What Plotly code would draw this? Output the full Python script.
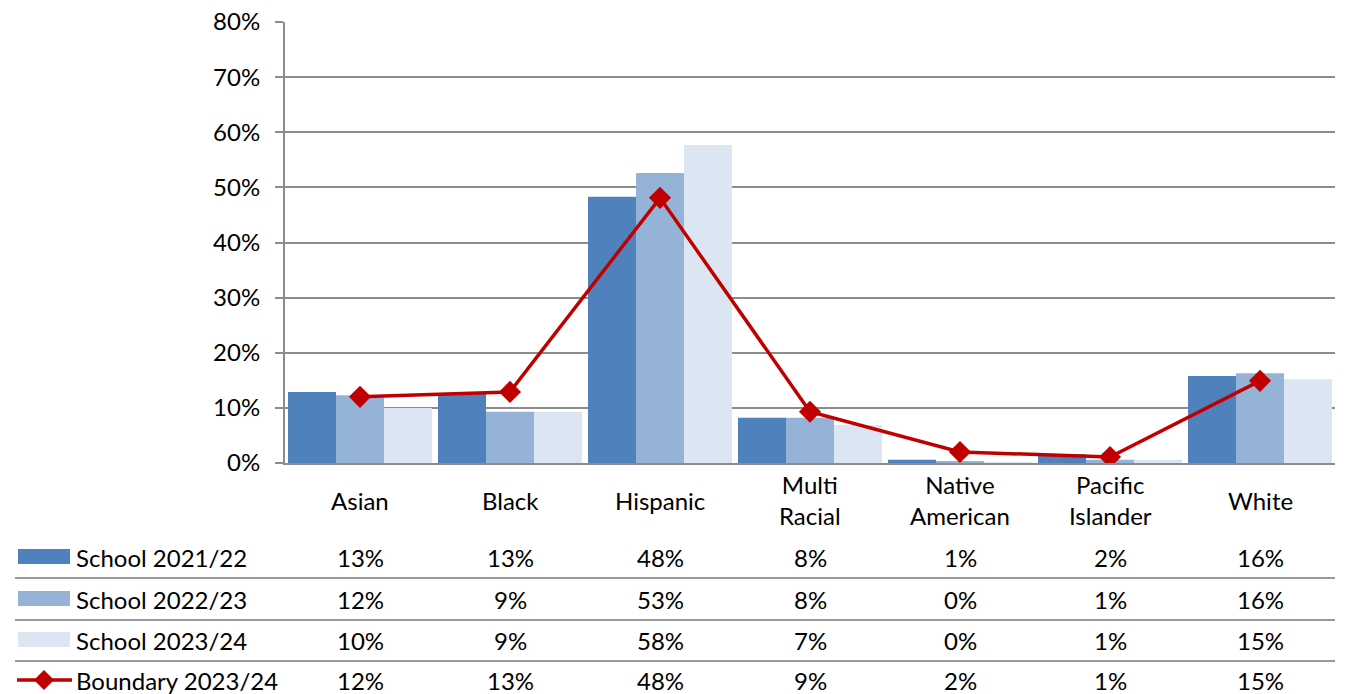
import plotly.graph_objects as go

categories = ["Asian", "Black", "Hispanic", "Multi Racial", "Native American", "Pacific Islander", "White"]
category_labels = ["Asian", "Black", "Hispanic", "Multi<br>Racial", "Native<br>American", "Pacific<br>Islander", "White"]
school_2122 = [0.129, 0.127, 0.483, 0.082, 0.006, 0.016, 0.158]
school_2223 = [0.123, 0.093, 0.526, 0.082, 0.002, 0.006, 0.163]
school_2324 = [0.100, 0.093, 0.577, 0.069, 0.001, 0.006, 0.152]
boundary_2324 = [0.120, 0.129, 0.481, 0.093, 0.020, 0.011, 0.149]
series_names = ["School 2021/22", "School 2022/23", "School 2023/24", "Boundary 2023/24"]
y_ticks = [0, 0.1, 0.2, 0.3, 0.4, 0.5, 0.6, 0.7, 0.8]

W, H = 1345, 694
# plot area in screen pixels (reference)
X0, X1, Y0, Y1 = 285, 1335, 22, 463
L, R, T, B = X0, W - X1, Y0, H - Y1
PW, PH = X1 - X0, Y1 - Y0

def px_x(x):
    return (x - X0) / PW

def px_y(y):
    return (Y1 - y) / PH

FONT = "Lato"
FS = 24
bar_colors = ["#4F81BD", "#95B3D7", "#DCE6F2"]
line_color = "#C00000"
grid_color = "#8C8C8C"

fig = go.Figure()
for name, vals, col in zip(series_names[:3], [school_2122, school_2223, school_2324], bar_colors):
    fig.add_trace(go.Bar(x=categories, y=vals, name=name, marker=dict(color=col, line=dict(width=0)), showlegend=False))
fig.add_trace(go.Scatter(x=categories, y=boundary_2324, name=series_names[3], mode="lines+markers",
                         line=dict(color=line_color, width=3.5),
                         marker=dict(symbol="diamond", size=17, color=line_color), showlegend=False))

annotations = []
shapes = []
for cat, lab in zip(categories, category_labels):
    annotations.append(dict(x=cat, xref="x", y=px_y(500), yref="paper", text=lab, showarrow=False,
                            xanchor="center", yanchor="middle", font=dict(family=FONT, size=FS, color="#000")))

row_y = [557, 599, 640, 680]
sep_y = [578, 620, 661]
all_series = [school_2122, school_2223, school_2324, boundary_2324]
for i, (name, vals) in enumerate(zip(series_names, all_series)):
    yc = px_y(row_y[i])
    annotations.append(dict(x=px_x(75), xref="paper", y=yc, yref="paper", text=name, showarrow=False,
                            xanchor="left", yanchor="middle", borderpad=0,
                            font=dict(family=FONT, size=FS, color="#000")))
    for cat, v in zip(categories, vals):
        annotations.append(dict(x=cat, xref="x", y=yc, yref="paper", text=f"{round(v * 100):.0f}%",
                                showarrow=False, xanchor="center", yanchor="middle", borderpad=0,
                                font=dict(family=FONT, size=FS, color="#000")))
    if i < 3:
        shapes.append(dict(type="rect", xref="paper", yref="paper", x0=px_x(18), x1=px_x(70),
                           y0=px_y(row_y[i] + 7), y1=px_y(row_y[i] - 8), fillcolor=bar_colors[i], line=dict(width=0)))
    else:
        shapes.append(dict(type="line", xref="paper", yref="paper", x0=px_x(17), x1=px_x(72),
                           y0=yc, y1=yc, line=dict(color=line_color, width=3.5)))
        shapes.append(dict(type="path", xref="paper", yref="paper",
                           path=f"M {px_x(34)},{yc} L {px_x(44)},{px_y(row_y[i]-10)} L {px_x(54)},{yc} L {px_x(44)},{px_y(row_y[i]+10)} Z",
                           fillcolor=line_color, line=dict(width=0)))
for sy in sep_y:
    shapes.append(dict(type="line", xref="paper", yref="paper", x0=px_x(15), x1=1.0,
                       y0=px_y(sy), y1=px_y(sy), line=dict(color="#9A9A9A", width=2)))

fig.update_layout(
    width=W, height=H,
    margin=dict(l=L, r=R, t=T, b=B, autoexpand=False),
    paper_bgcolor="white", plot_bgcolor="white",
    barmode="group", bargap=0.04, bargroupgap=0,
    font=dict(family=FONT, size=FS, color="#000"),
    annotations=annotations, shapes=shapes,
    xaxis=dict(showticklabels=False, showline=True, linecolor=grid_color, linewidth=2, ticks="", showgrid=False,
               range=[-0.5, 6.5]),
    yaxis=dict(range=[0, 0.80001], tickvals=y_ticks, tickformat=".0%", showgrid=True, gridcolor=grid_color, gridwidth=2,
               showline=True, linecolor=grid_color, linewidth=2, ticks="outside", ticklen=8, tickcolor=grid_color,
               tickwidth=2, zeroline=False, tickfont=dict(family=FONT, size=FS, color="#000"), ticklabelstandoff=10),
)
fig.write_html("out.html", config={"displayModeBar": False},
               post_script="document.body.style.margin='0';document.body.style.overflow='hidden';")
